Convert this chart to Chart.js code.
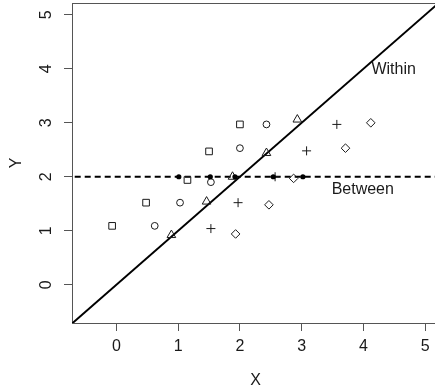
<!DOCTYPE html>
<html>
<head>
<meta charset="utf-8">
<script src="https://cdn.jsdelivr.net/npm/chart.js@4/dist/chart.umd.min.js"></script>
<style>
  html, body { margin: 0; padding: 0; background: #fff; overflow: hidden; }
  #wrap { width: 435px; height: 389px; }
  canvas { display: block; }
</style>
</head>
<body>
<div id="wrap"><canvas id="myChart" width="435" height="389"></canvas></div>
<script>
// five groups, one marker shape each
var squareX = [-0.07, 0.48, 1.15, 1.50, 2.00];
var squareY = [1.09, 1.52, 1.94, 2.47, 2.97];
var circleX = [0.62, 1.03, 1.53, 2.00, 2.43];
var circleY = [1.09, 1.52, 1.90, 2.53, 2.97];
var triangleX = [0.89, 1.46, 1.88, 2.43, 2.93];
var triangleY = [0.92, 1.54, 2.00, 2.44, 3.06];
var plusX = [1.53, 1.97, 2.57, 3.08, 3.57];
var plusY = [1.04, 1.52, 2.00, 2.48, 2.97];
var diamondX = [1.93, 2.47, 2.87, 3.71, 4.12];
var diamondY = [0.94, 1.48, 1.97, 2.53, 3.00];
// group means
var meanX = [1.01, 1.52, 1.92, 2.54, 3.02];
var meanY = [2, 2, 2, 2, 2];
// reference lines
var withinX = [-1, 6];
var withinY = [-1, 6];
var betweenX = [-1, 6];
var betweenY = [2, 2];
var tickValues = [0, 1, 2, 3, 4, 5];
var labels = [
  { text: "Within", x: 4.49, y: 3.98 },
  { text: "Between", x: 3.99, y: 1.77 }
];

function pts(xs, ys) {
  return xs.map(function(x, i) { return { x: x, y: ys[i] }; });
}

var font = '16px "Liberation Sans", Arial, sans-serif';
var ink = "#1a1a1a";

function marker(xs, ys, style, r) {
  return {
    data: pts(xs, ys),
    pointStyle: style,
    pointRadius: r,
    pointHoverRadius: r,
    pointBorderColor: ink,
    pointBackgroundColor: "rgba(0,0,0,0)",
    pointBorderWidth: 1,
    showLine: false
  };
}

var textPlugin = {
  id: "rtext",
  afterDraw: function(chart) {
    var ctx = chart.ctx;
    var xs = chart.scales.x, ys = chart.scales.y;
    var area = chart.chartArea;
    ctx.save();
    // top side of the box
    ctx.strokeStyle = "#555";
    ctx.lineWidth = 1;
    ctx.beginPath();
    ctx.moveTo(area.left, area.top + 0.5);
    ctx.lineTo(area.right, area.top + 0.5);
    ctx.stroke();

    ctx.fillStyle = ink;
    ctx.font = font;
    ctx.textAlign = "center";
    ctx.textBaseline = "middle";
    tickValues.forEach(function(v) {
      ctx.fillText(String(v), xs.getPixelForValue(v), 347);
    });
    tickValues.forEach(function(v) {
      ctx.save();
      ctx.translate(47, ys.getPixelForValue(v));
      ctx.rotate(-Math.PI / 2);
      ctx.fillText(String(v), 0, 0);
      ctx.restore();
    });
    // axis titles
    ctx.fillText("X", 255.5, 381);
    ctx.save();
    ctx.translate(17, (area.top + area.bottom) / 2);
    ctx.rotate(-Math.PI / 2);
    ctx.fillText("Y", 0, 0);
    ctx.restore();
    // line labels
    labels.forEach(function(l) {
      ctx.fillText(l.text, xs.getPixelForValue(l.x), ys.getPixelForValue(l.y));
    });
    ctx.restore();
  }
};

var ctx = document.getElementById("myChart").getContext("2d");
var myChart = new Chart(ctx, {
  type: "scatter",
  data: {
    datasets: [
      {
        data: pts(meanX, meanY),
        pointStyle: "circle",
        pointRadius: 2.6,
        pointHoverRadius: 2.6,
        pointBackgroundColor: "#000",
        pointBorderColor: "#000",
        pointBorderWidth: 0,
        showLine: false
      },
      marker(squareX, squareY, "rect", 4.7),
      marker(circleX, circleY, "circle", 3.4),
      marker(triangleX, triangleY, "triangle", 5),
      marker(plusX, plusY, "cross", 4.5),
      marker(diamondX, diamondY, "rectRot", 4.3),
      {
        data: pts(betweenX, betweenY),
        showLine: true,
        borderColor: "#000",
        borderWidth: 2,
        borderDash: [6, 4],
        pointRadius: 0,
        clip: 0
      },
      {
        data: pts(withinX, withinY),
        showLine: true,
        borderColor: "#000",
        borderWidth: 2,
        pointRadius: 0,
        clip: 0
      }
    ]
  },
  options: {
    responsive: false,
    animation: false,
    events: [],
    layout: { autoPadding: false, padding: { top: 3, right: 0, left: 0, bottom: 0 } },
    plugins: {
      legend: { display: false },
      tooltip: { enabled: false }
    },
    scales: {
      x: {
        type: "linear",
        min: -0.72,
        max: 5.16,
        afterBuildTicks: function(scale) {
          scale.ticks = tickValues.map(function(v) { return { value: v }; });
        },
        afterFit: function(scale) { scale.height = 66; },
        ticks: { display: false },
        grid: { drawOnChartArea: false, drawTicks: true, tickLength: 8, tickColor: "#555" },
        border: { display: true, color: "#555", width: 1 }
      },
      y: {
        type: "linear",
        min: -0.71,
        max: 5.22,
        afterBuildTicks: function(scale) {
          scale.ticks = tickValues.map(function(v) { return { value: v }; });
        },
        afterFit: function(scale) { scale.width = 72; },
        ticks: { display: false },
        grid: { drawOnChartArea: false, drawTicks: true, tickLength: 8, tickColor: "#555" },
        border: { display: true, color: "#555", width: 1 }
      }
    }
  },
  plugins: [textPlugin]
});
</script>
</body>
</html>
